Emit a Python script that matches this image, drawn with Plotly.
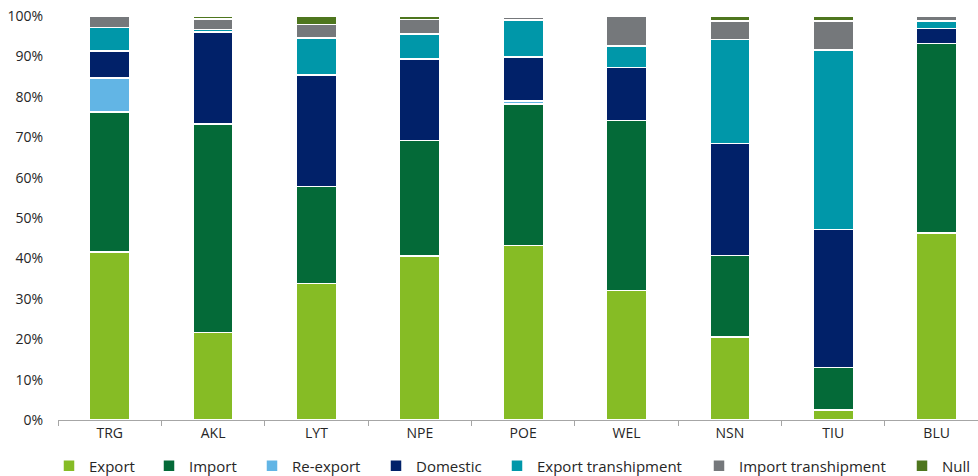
import plotly.graph_objects as go

categories = ["TRG", "AKL", "LYT", "NPE", "POE", "WEL", "NSN", "TIU", "BLU"]
export = [41.6, 21.6, 33.8, 40.6, 43.2, 32.1, 20.5, 2.5, 46.3]
import_ = [34.6, 51.7, 24.0, 28.6, 35.0, 42.0, 20.2, 10.5, 46.9]
re_export = [8.5, 0, 0, 0, 0.7, 0, 0, 0, 0]
domestic = [6.6, 22.7, 27.6, 20.1, 11.0, 13.2, 27.7, 34.2, 3.7]
export_tranship = [5.9, 0.6, 9.2, 6.2, 9.1, 5.3, 25.8, 44.4, 1.9]
import_tranship = [2.8, 2.6, 3.3, 3.6, 0.8, 7.4, 4.6, 7.2, 1.2]
null = [0, 0.8, 2.1, 0.9, 0.2, 0, 1.2, 1.2, 0]

series_names = ["Export", "Import", "Re-export", "Domestic",
                "Export transhipment", "Import transhipment", "Null"]
series_values = [export, import_, re_export, domestic,
                 export_tranship, import_tranship, null]
colors = ["#86BC25", "#046A38", "#62B5E5", "#012169",
          "#0097A9", "#75787B", "#4E761E"]
y_tick_values = list(range(0, 101, 10))
y_tick_labels = [f"{v}%" for v in y_tick_values]
# text start positions of legend entries (px)
legend_text_x = [89, 189, 292, 416, 537, 739, 942]

FONT = "Open Sans"
W, H = 978, 476

fig = go.Figure()
for i, (name, vals, col) in enumerate(zip(series_names, series_values, colors)):
    lg = "legend" if i == 0 else f"legend{i+1}"
    fig.add_trace(go.Bar(
        x=categories, y=vals, name=name,
        marker=dict(color=col, line=dict(color="white", width=1.5)),
        width=0.39, legend=lg, showlegend=True,
    ))

layout_legends = {}
for i, tx in enumerate(legend_text_x):
    key = "legend" if i == 0 else f"legend{i+1}"
    layout_legends[key] = dict(
        xref="container", yref="container",
        x=(tx - 40) / W, xanchor="left",
        y=1 - 466 / H, yanchor="middle",
        orientation="h", bgcolor="rgba(0,0,0,0)",
        font=dict(family=FONT, size=15, color="#262626"),
        borderwidth=0, itemwidth=30,
    )

fig.update_layout(
    width=W, height=H,
    margin=dict(l=58, r=0, t=16, b=56),
    barmode="stack",
    showlegend=True,
    plot_bgcolor="white", paper_bgcolor="white",
    font=dict(family=FONT, size=14, color="#262626"),
    **layout_legends,
)
fig.update_xaxes(
    range=[-0.5, 8.4], showgrid=False,
    showline=True, linecolor="#A6A6A6", linewidth=1,
    ticks="outside", tickson="boundaries", ticklen=5, tickcolor="#A6A6A6",
    tickfont=dict(family=FONT, size=14, color="#262626"),
)
fig.update_yaxes(
    range=[0, 100], tickmode="array",
    tickvals=y_tick_values, ticktext=y_tick_labels,
    showgrid=False, showline=False, zeroline=False,
    ticklabelstandoff=14,
    tickfont=dict(family=FONT, size=14, color="#262626"),
)

fig.write_html("out.html")
